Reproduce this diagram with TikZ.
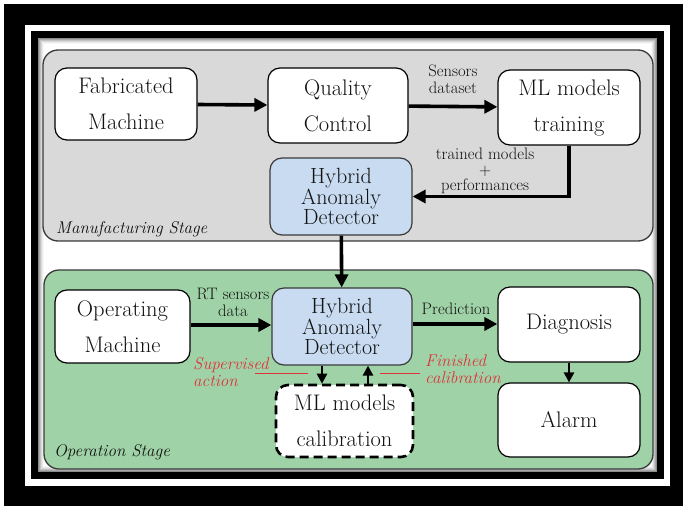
\documentclass[tikz,border=0pt]{standalone}
\usepackage{fontspec}
\usetikzlibrary{arrows.meta}

\definecolor{mfgray}{HTML}{D9D9D9}
\definecolor{opgreen}{HTML}{9FD3A7}
\definecolor{hybblue}{HTML}{C8DBF1}
\definecolor{panelline}{HTML}{3A3A3A}
\definecolor{inktext}{HTML}{111111}
\definecolor{notered}{HTML}{E0303A}

\tikzset{
  panel/.style={draw=panelline, line width=1.3pt, rounded corners=15pt},
  stepbox/.style={draw=black, line width=1.2pt, rounded corners=12pt, fill=white,
    align=center, inner sep=0pt, text=inktext,
    font=\fontsize{22.5}{36}\selectfont},
  hybbox/.style={stepbox, fill=hybblue, draw=panelline,
    font=\fontsize{22}{18.5}\selectfont},
  calbox/.style={stepbox, dash pattern=on 9pt off 5pt, line width=2.6pt},
  edgelabel/.style={align=center, inner sep=0pt, text=inktext,
    font=\fontsize{16.6}{17}\selectfont},
  notelabel/.style={align=left, inner sep=0pt, text=notered,
    font=\fontsize{17}{17}\selectfont\itshape},
  stagelabel/.style={inner sep=0pt, text=inktext, font=\fontsize{17}{18}\selectfont\itshape},
  flow/.style={line width=3.6pt, -{Triangle[length=13pt,width=13pt]}},
  thinflow/.style={line width=2.4pt, -{Triangle[length=10pt,width=10pt]}},
  noteline/.style={draw=notered, line width=1pt},
}

\begin{document}
\begin{tikzpicture}[x=1pt,y=-1pt]
\useasboundingbox (0,0) rectangle (683,506);

% frame: white margin, black border, white band, black band
\fill[white] (0,0) rectangle (683,506);
\fill[black] (4,4) rectangle (683,506);
\fill[white] (25,25) rectangle (670,486);
\fill[black] (31,31) rectangle (664,479);
% soft shaded inner field
\foreach \d/\g in {0/45,1/34,2/24,3/15,4/8,5/3,6/0}
  \fill[black!\g] (38+\d,38+\d) rectangle (657-\d,472-\d);

% stage panels
\draw[panel, fill=mfgray] (43,50) rectangle (653,241);
\draw[panel, fill=opgreen] (44,270) rectangle (653,469);

\node[stagelabel, anchor=west] (ms) at (56,229) {Manufacturing Stage};
\node[stagelabel, anchor=west] (os) at (54,452) {Operation Stage};

% manufacturing stage
\node[stepbox, minimum width=142pt, minimum height=72pt] (fab) at (126,104) {Fabricated\\Machine};
\node[stepbox, minimum width=140pt, minimum height=75pt] (qc) at (338,105.5) {Quality\\Control};
\node[stepbox, minimum width=142pt, minimum height=75pt] (mlt) at (569,107.5) {ML models\\training};
\node[hybbox, minimum width=142pt, minimum height=77pt] (hyb1) at (341,196.5) {Hybrid\\Anomaly\\Detector};

\node[edgelabel] (sd) at (453,79) {Sensors\\dataset};
\node[edgelabel, font=\fontsize{16.6}{15.5}\selectfont] (tm) at (485,171) {trained models\\+\\performances};

\draw[flow] (fab) -- (qc);
\draw[flow] (qc) -- (mlt);
\draw[flow] (mlt.south) |- (hyb1.east);

% operation stage
\node[stepbox, minimum width=135pt, minimum height=73pt] (op) at (122.5,326.5) {Operating\\Machine};
\node[hybbox, minimum width=140pt, minimum height=77pt] (hyb2) at (342,326.5) {Hybrid\\Anomaly\\Detector};
\node[stepbox, minimum width=142pt, minimum height=75pt] (diag) at (569,324.5) {Diagnosis};
\node[stepbox, minimum width=142pt, minimum height=74pt] (alarm) at (569,420) {Alarm};
\node[calbox, minimum width=137pt, minimum height=72pt] (cal) at (344.5,421) {ML models\\calibration};

\node[edgelabel] (rt) at (233,302) {RT sensors\\data};
\node[edgelabel] (pred) at (456,309) {Prediction};
\node[notelabel, anchor=west] (sup) at (193,372) {Supervised\\action};
\node[notelabel, anchor=west] (fin) at (425,369) {Finished\\calibration};

\draw[flow] (hyb1) -- (hyb2);
\draw[flow] (op.east |- 0,325) -- (hyb2.west |- 0,325);
\draw[flow] (hyb2.east |- 0,324) -- (diag.west |- 0,324);
\draw[thinflow] (diag) -- (alarm);
\draw[thinflow] ([xshift=-20pt]hyb2.south) -- ([xshift=-20pt]hyb2.south |- cal.north);
\draw[thinflow] ([xshift=26pt]hyb2.south |- cal.north) -- ([xshift=26pt]hyb2.south);

% leader lines of the red notes
\coordinate (supA) at (255,373);
\coordinate (supB) at (308,373);
\coordinate (finA) at (380,373);
\coordinate (finB) at (420,373);
\draw[noteline] (supA) -- (supB);
\draw[noteline] (finA) -- (finB);
\end{tikzpicture}
\end{document}
